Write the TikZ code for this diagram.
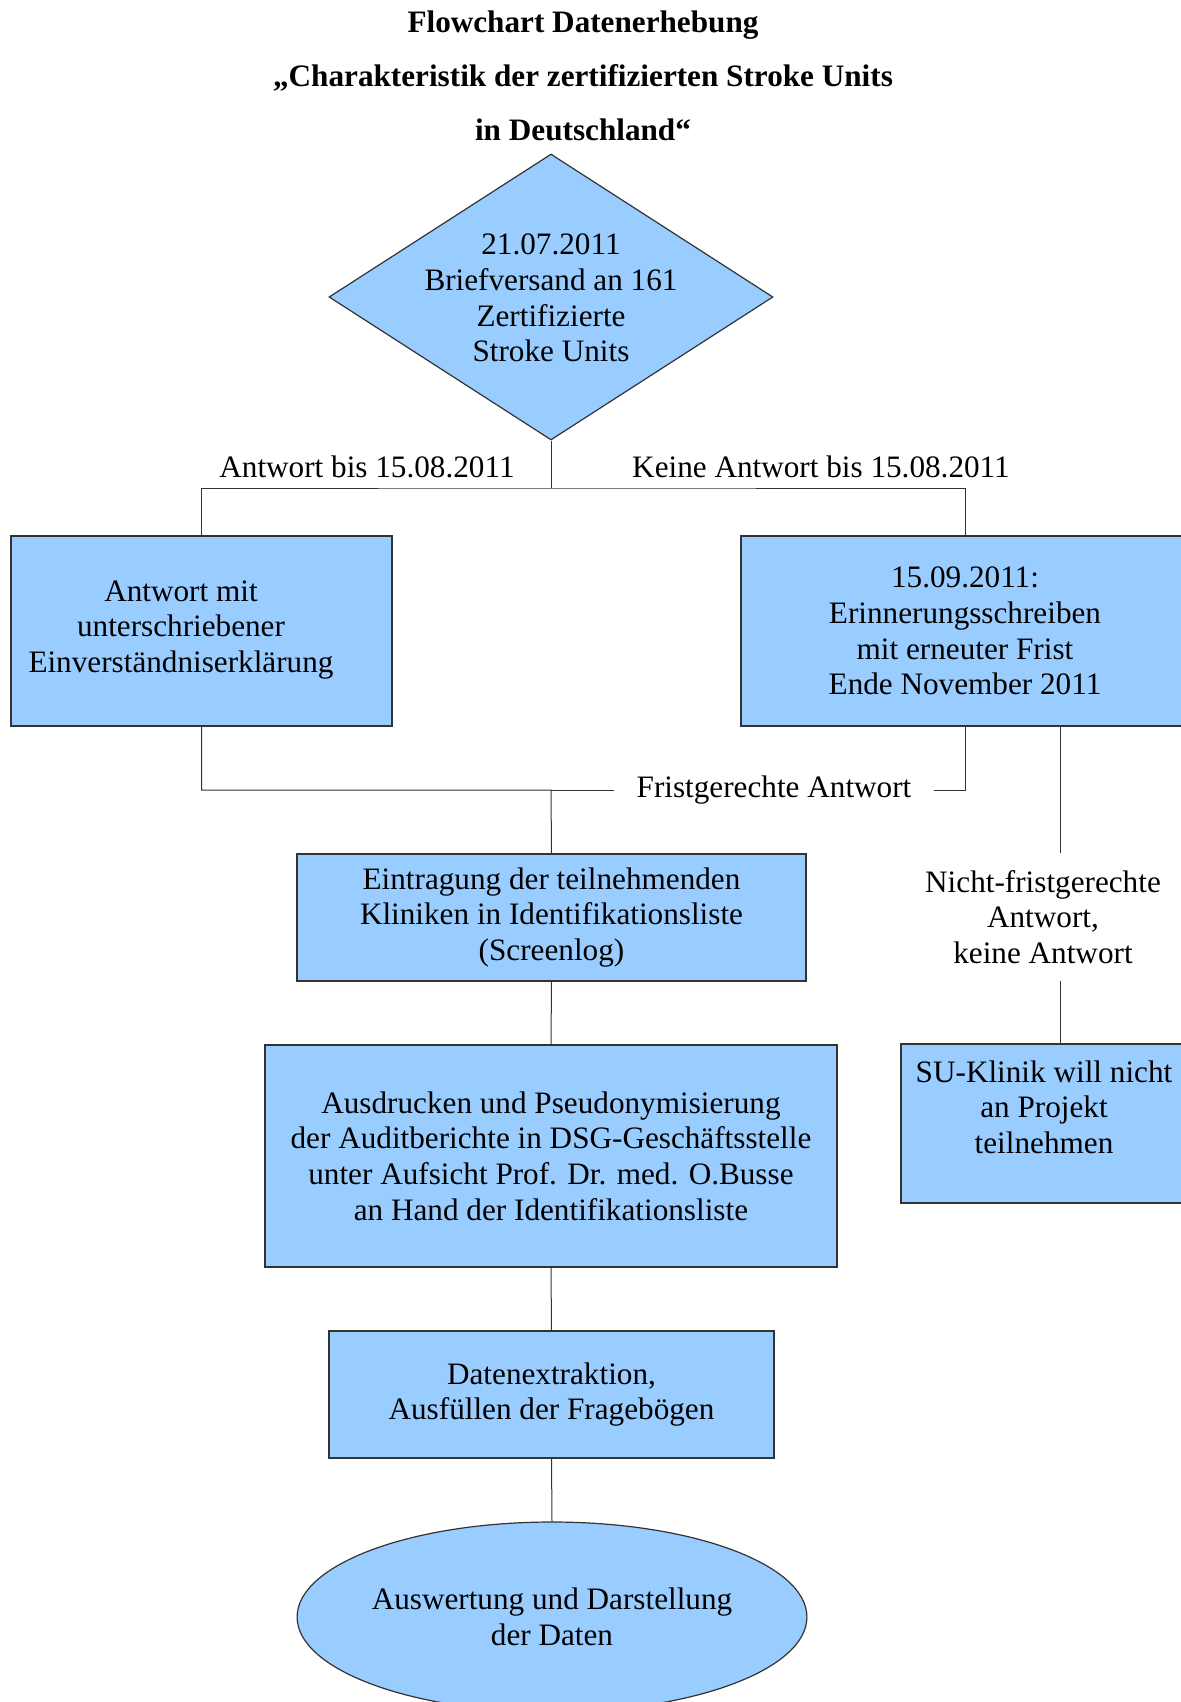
\documentclass[tikz,border=0pt]{standalone}
\usepackage{fontspec}
\setmainfont{Liberation Serif}
\usepackage{tikz}
\usetikzlibrary{positioning}
\usetikzlibrary{shapes.geometric}
\newlength\pxu
\setlength\pxu{0.5pt}
\definecolor{kasten}{HTML}{99CCFF}
\tikzset{
	txt/.style={font=\fontsize{15.6}{17.8}\selectfont, align=center, inner sep=0pt},
	kastenbox/.style={txt, rectangle, draw=black!80, line width=0.75pt, fill=kasten},
	raute/.style={diamond, draw=black!80, line width=0.6pt, fill=kasten, inner sep=0pt},
	oval/.style={txt, ellipse, draw=black!80, line width=0.6pt, fill=kasten},
	verb/.style={draw=black!80, line width=0.5pt},
	marke/.style={txt, fill=white}
}

\begin{document}
\begin{tikzpicture}[x=\pxu, y=-\pxu]
				\useasboundingbox (0,0) rectangle (1181,1702);
					%Nodes
					\node[txt, font=\bfseries\fontsize{15.6}{27}\selectfont] (titel) at (583,76) {Flowchart Datenerhebung\\„Charakteristik der zertifizierten Stroke Units\\in Deutschland“};
				\node[raute, minimum width=444\pxu, minimum height=286\pxu] (dia) at (551,297) {};
				\node[txt] (diatxt) at (551,298) {21.07.2011\\Briefversand an 161\\Zertifizierte\\Stroke Units};
				\node[txt] (ja) 	at 	(367,467) {Antwort bis 15.08.2011};
				\node[txt] (nein) 	at 	(821,467) {Keine Antwort bis 15.08.2011};
				\coordinate      (teil) 	at 	(551,488);
				\node[kastenbox, minimum width=381\pxu, minimum height=190\pxu] (antw) at (201.5,631) {};
				\node[txt] (antwtxt) at (181,630) {Antwort mit\\unterschriebener\\Einverständniserklärung};
				\node[kastenbox, minimum width=448\pxu, minimum height=190\pxu] (erin) at (965,631) {15.09.2011:\\Erinnerungsschreiben\\mit erneuter Frist\\Ende November 2011};
				\coordinate      (frist) 	at 	(551,790);
				\node[marke, inner xsep=22\pxu] (fristtxt) at (774,790) {Fristgerechte Antwort};
				\node[kastenbox, minimum width=509\pxu, minimum height=127\pxu] (eintr) at (551.5,917.5) {Eintragung der teilnehmenden\\Kliniken in Identifikationsliste\\(Screenlog)};
				\node[txt, minimum height=128\pxu] (nicht) at (1043,917) {Nicht-fristgerechte\\Antwort,\\keine Antwort};
				\node[kastenbox, minimum width=318\pxu, minimum height=159\pxu] (su) at (1060,1123.5) {};
				\node[txt] (sutxt) at (1044,1107) {SU-Klinik will nicht\\an Projekt\\teilnehmen};
				\node[kastenbox, minimum width=572\pxu, minimum height=222\pxu] (ausdr) at (551,1156) {Ausdrucken und Pseudonymisierung\\der Auditberichte in DSG-Geschäftsstelle\\unter Aufsicht Prof. Dr. med. O.Busse\\an Hand der Identifikationsliste};
				\node[kastenbox, minimum width=445\pxu, minimum height=127\pxu] (daten) at (551.5,1394.5) {Datenextraktion,\\Ausfüllen der Fragebögen};
				\node[oval, minimum width=508\pxu, minimum height=190\pxu] (ausw) at (552,1617) {Auswertung und Darstellung\\der Daten};

				%Lines
				\draw[verb] (dia.south) -- (teil);
				\draw[verb] (antw.north) |- (teil) -| (erin.north);
				\draw[verb] (antw.south) |- (frist) -- (eintr.north);
				\draw[verb] (erin.south) |- (fristtxt.east);
				\draw[verb] (fristtxt.west) -- (frist);
				\draw[verb] (su.north |- erin.south) -- (su.north |- nicht.north);
				\draw[verb] (su.north |- nicht.south) -- (su.north);
				\draw[verb] (eintr.south) -- (ausdr.north);
				\draw[verb] (ausdr.south) -- (daten.north);
				\draw[verb] (daten.south) -- (ausw.north);

\end{tikzpicture}
\end{document}
